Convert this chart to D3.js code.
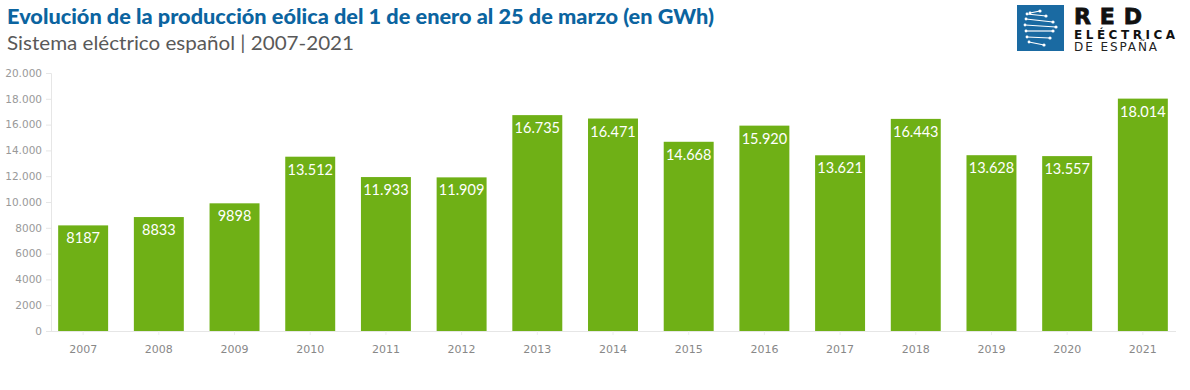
<!DOCTYPE html>
<html>
<head>
<meta charset="utf-8">
<script src="https://cdn.jsdelivr.net/npm/d3@7"></script>
<style>
  body { margin: 0; background: #fff; }
  svg { display: block; }
</style>
</head>
<body>
<svg id="chart" width="1190" height="390"></svg>
<script>
const years = ["2007","2008","2009","2010","2011","2012","2013","2014","2015","2016","2017","2018","2019","2020","2021"];
const values = [8187, 8833, 9898, 13512, 11933, 11909, 16735, 16471, 14668, 15920, 13621, 16443, 13628, 13557, 18014];
const yTicks = [0, 2000, 4000, 6000, 8000, 10000, 12000, 14000, 16000, 18000, 20000];

const title = "Evolución de la producción eólica del 1 de enero al 25 de marzo (en GWh)";
const subtitle = "Sistema eléctrico español | 2007-2021";

const es = d3.formatLocale({ decimal: ",", thousands: ".", grouping: [3], currency: ["", " €"] });
const fmtGroup = es.format(",d");
function fmt(v) { return v >= 10000 ? fmtGroup(v) : String(v); }

const svg = d3.select("#chart");

const x = d3.scaleBand()
  .domain(years)
  .range([45.3, 1180.7])
  .paddingInner(0.34)
  .paddingOuter(0.17);

const y = d3.scaleLinear()
  .domain([0, 20000])
  .range([331, 73]);

// title
svg.append("text")
  .attr("x", 7).attr("y", 24)
  .attr("font-family", "Lato, 'Noto Sans', sans-serif")
  .attr("font-weight", "900")
  .attr("font-size", 20)
  .attr("fill", "#0b64a0")
  .attr("textLength", 707)
  .attr("lengthAdjust", "spacingAndGlyphs")
  .text(title);

svg.append("text")
  .attr("x", 7).attr("y", 50)
  .attr("font-family", "Lato, 'Noto Sans', sans-serif")
  .attr("font-size", 20)
  .attr("fill", "#595959")
  .attr("textLength", 347)
  .attr("lengthAdjust", "spacingAndGlyphs")
  .text(subtitle);

// logo
const logo = svg.append("g");
logo.append("rect")
  .attr("x", 1017).attr("y", 5).attr("width", 47).attr("height", 46)
  .attr("fill", "#1a6aa2");
const rays = [[1027,14,1046,16],[1026,19,1053,22],[1025,25,1056,27],[1026,31,1053,31],[1027,37,1050,38],[1029,42,1044,45],[1030,13,1040,11]];
rays.forEach(r => {
  logo.append("line").attr("x1", r[0]).attr("y1", r[1]).attr("x2", r[2]).attr("y2", r[3])
    .attr("stroke", "#fff").attr("stroke-width", 1.2);
  logo.append("circle").attr("cx", r[2]).attr("cy", r[3]).attr("r", 1.6).attr("fill", "#fff");
  logo.append("circle").attr("cx", r[0]).attr("cy", r[1]).attr("r", 1.4).attr("fill", "#fff");
});
logo.append("text")
  .attr("x", 1074).attr("y", 24)
  .attr("font-family", "'DejaVu Sans', sans-serif")
  .attr("font-weight", "bold")
  .attr("font-size", 22)
  .attr("fill", "#111")
  .attr("stroke", "#111").attr("stroke-width", 0.8)
  .attr("textLength", 68)
  .attr("lengthAdjust", "spacing")
  .text("RED");
logo.append("text")
  .attr("x", 1074).attr("y", 38.5)
  .attr("font-family", "'DejaVu Sans', sans-serif")
  .attr("font-weight", "bold")
  .attr("font-size", 12)
  .attr("fill", "#111")
  .attr("textLength", 101)
  .attr("lengthAdjust", "spacing")
  .text("ELÉCTRICA");
logo.append("text")
  .attr("x", 1074).attr("y", 51)
  .attr("font-family", "'DejaVu Sans', sans-serif")
  .attr("font-size", 12)
  .attr("fill", "#222")
  .attr("textLength", 83)
  .attr("lengthAdjust", "spacing")
  .text("DE ESPAÑA");

// axes
const yAxis = svg.append("g")
  .attr("transform", "translate(51,0)")
  .call(d3.axisLeft(y).tickValues(yTicks).tickFormat(fmt).tickSize(5).tickPadding(4));
yAxis.select(".domain").attr("stroke", "#e6e6e6");
yAxis.selectAll(".tick line").attr("stroke", "#e6e6e6");
yAxis.selectAll(".tick text")
  .attr("font-family", "'DejaVu Sans', Verdana, sans-serif")
  .attr("font-size", 10.5)
  .attr("fill", "#999");

const xAxis = svg.append("g")
  .attr("transform", "translate(0,331)")
  .call(d3.axisBottom(x).tickSize(4).tickPadding(10));
xAxis.select(".domain").attr("d", "M51,0.5H1176").attr("stroke", "#e6e6e6");
xAxis.selectAll(".tick line").attr("stroke", "#eeeeee");
xAxis.selectAll(".tick text")
  .attr("font-family", "'DejaVu Sans', Verdana, sans-serif")
  .attr("font-size", 11)
  .attr("fill", "#888");

// bars
const bars = svg.append("g");
bars.selectAll("rect")
  .data(values)
  .join("rect")
  .attr("x", (d, i) => x(years[i]))
  .attr("y", d => y(d))
  .attr("width", x.bandwidth())
  .attr("height", d => y(0) - y(d))
  .attr("fill", "#6fb016");

bars.selectAll("text")
  .data(values)
  .join("text")
  .attr("x", (d, i) => x(years[i]) + x.bandwidth() / 2)
  .attr("y", d => y(d) + 18)
  .attr("text-anchor", "middle")
  .attr("font-family", "Lato, 'Noto Sans', sans-serif")
  .attr("font-size", 14.5)
  .attr("fill", "#fff")
  .text(d => fmt(d));
</script>
</body>
</html>
